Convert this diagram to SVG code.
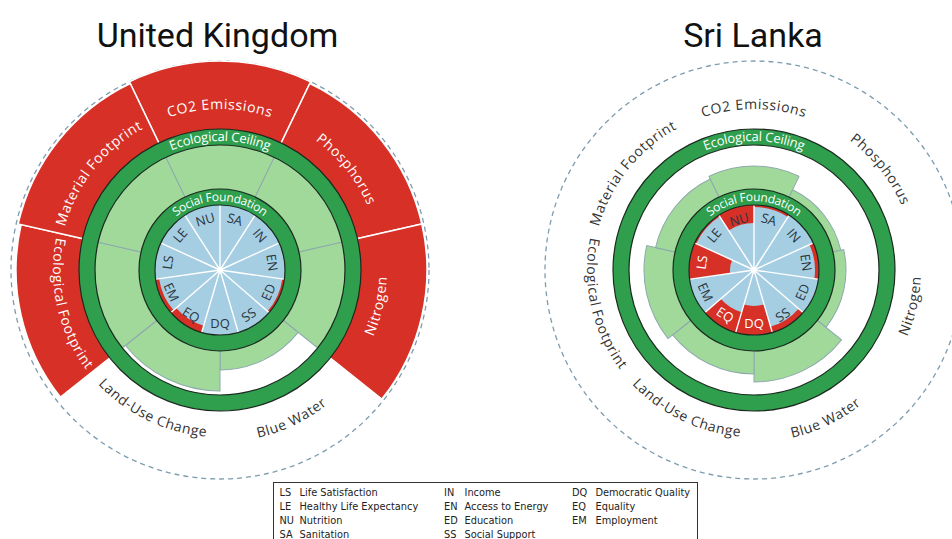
<svg xmlns="http://www.w3.org/2000/svg" width="952" height="539" viewBox="0 0 952 539">
<defs>
<style>
.dash{fill:none;stroke:#7d9cae;stroke-width:1.3;stroke-dasharray:5 4}
.ov{fill:#d73027;stroke:#fff;stroke-width:1.5}
.lg{fill:#a1d99b;stroke:#8ea9ad;stroke-width:1}
.ringg{fill:none;stroke:#2f9f4e;stroke-width:16}
.edge{fill:none;stroke:#1b2a1f;stroke-width:1.2}
.blue{fill:#a6cee3}
.sf{fill:#d73027}
.spk{fill:none;stroke:#fff;stroke-width:1.4}
.rt{font-family:"Open Sans",sans-serif;fill:#fff;text-anchor:middle}
.sl{font-family:"Open Sans",sans-serif;font-size:13px;fill:#2a3640;text-anchor:middle;dominant-baseline:central}
.slw{fill:#fff}
.out{font-family:"Open Sans",sans-serif;font-size:14px;letter-spacing:0.6px;text-anchor:middle}
.title{font-family:Roboto,"Liberation Sans",sans-serif;font-size:34px;fill:#111;text-anchor:middle}
.lgd{font-family:"DejaVu Sans",sans-serif;font-size:9.8px;fill:#222}
</style>
<path id="topArc" d="M-139.43,-80.5A161 161 0 0 1 139.43,-80.5"/>
<path id="botArc" d="M-144.63,83.5A167 167 0 0 0 144.63,83.5"/>
<path id="botArc2" d="M-148.96,86A172 172 0 0 0 148.96,86"/>
<path id="ecoArc" d="M-111.72,-64.5A129 129 0 0 1 111.72,-64.5"/>
<path id="socArc" d="M-64.84,-23.6A69 69 0 0 1 64.84,-23.6"/>
<path id="spokes" d="M0,0V-66M0,0L35.68,-55.52M0,0L60.04,-27.42M0,0L65.33,9.39M0,0L49.88,43.22M0,0L18.59,63.33M0,0L-18.59,63.33M0,0L-49.88,43.22M0,0L-65.33,9.39M0,0L-60.04,-27.42M0,0L-35.68,-55.52"/>
<path id="lgFull" d="M-34.28,-71.18L-55.1,-114.42A127 127 0 0 1 55.1,-114.42L34.28,-71.18A79 79 0 0 0 -34.28,-71.18Z"/>
<path id="ov207" d="M-59.88,-124.33L-89.81,-186.5A207 207 0 0 1 89.81,-186.5L59.88,-124.33A138 138 0 0 0 -59.88,-124.33Z"/>
</defs>

<rect width="952" height="539" fill="#fff"/>

<g id="titles">
<text class="title" x="217.5" y="47">United Kingdom</text>
<text class="title" x="753" y="47">Sri Lanka</text>
</g>

<!-- United Kingdom -->
<g id="uk" transform="translate(220,270)">
<circle class="dash" r="209"/>
<g id="uk-overshoot">
<path class="ov" d="M-59.88,-124.33L-90.68,-188.3A209 209 0 0 1 90.68,-188.3L59.88,-124.33A138 138 0 0 0 -59.88,-124.33Z"/>
<use href="#ov207" class="ov" transform="rotate(51.43)"/>
<use href="#ov207" class="ov" transform="rotate(102.86)"/>
<path class="ov" transform="rotate(257.14)" d="M-59.88,-124.33L-88.51,-183.8A204 204 0 0 1 88.51,-183.8L59.88,-124.33A138 138 0 0 0 -59.88,-124.33Z"/>
<use href="#ov207" class="ov" transform="rotate(308.57)"/>
</g>
<g id="uk-eco">
<use href="#lgFull" class="lg"/>
<use href="#lgFull" class="lg" transform="rotate(51.43)"/>
<use href="#lgFull" class="lg" transform="rotate(102.86)"/>
<path class="lg" transform="rotate(154.29)" d="M-34.28,-71.18L-43.39,-90.1A100 100 0 0 1 43.39,-90.1L34.28,-71.18A79 79 0 0 0 -34.28,-71.18Z"/>
<path class="lg" transform="rotate(205.71)" d="M-34.28,-71.18L-52.5,-109.02A121 121 0 0 1 52.5,-109.02L34.28,-71.18A79 79 0 0 0 -34.28,-71.18Z"/>
<use href="#lgFull" class="lg" transform="rotate(257.14)"/>
<use href="#lgFull" class="lg" transform="rotate(308.57)"/>
</g>
<g id="uk-social">
<circle class="blue" r="66"/>
<path class="sf" transform="rotate(245.45)" d="M-17.33,-59.01L-18.59,-63.33A66 66 0 0 1 18.59,-63.33L17.33,-59.01A61.5 61.5 0 0 0 -17.33,-59.01Z"/>
<path class="sf" transform="rotate(212.73)" d="M-16.34,-55.65L-18.59,-63.33A66 66 0 0 1 18.59,-63.33L16.34,-55.65A58 58 0 0 0 -16.34,-55.65Z"/>
<path class="sf" transform="rotate(114.55)" d="M-17.75,-60.45L-18.59,-63.33A66 66 0 0 1 18.59,-63.33L17.75,-60.45A63 63 0 0 0 -17.75,-60.45Z"/>
<use href="#spokes" class="spk"/>
<circle r="2.5" fill="#fff"/>
</g>
<g id="uk-rings">
<circle class="ringg" r="133"/><circle class="edge" r="125"/><circle class="edge" r="141"/>
<circle class="ringg" r="73"/><circle class="edge" r="65"/><circle class="edge" r="81"/>
<text class="rt" font-size="13" letter-spacing="-0.2"><textPath href="#ecoArc" startOffset="50%">Ecological Ceiling</textPath></text>
<text class="rt" font-size="12" letter-spacing="-0.3"><textPath href="#socArc" startOffset="50%">Social Foundation</textPath></text>
</g>
<g id="uk-social-labels">
<text class="sl" transform="rotate(16.36) translate(0,-53)">SA</text>
<text class="sl" transform="rotate(49.09) translate(0,-53)">IN</text>
<text class="sl" transform="rotate(81.82) translate(0,-53)">EN</text>
<text class="sl" transform="rotate(114.55) translate(0,-53) rotate(180)">ED</text>
<text class="sl" transform="rotate(147.27) translate(0,-53) rotate(180)">SS</text>
<text class="sl" transform="rotate(180) translate(0,-53) rotate(180)">DQ</text>
<text class="sl" transform="rotate(212.73) translate(0,-53) rotate(180)">EQ</text>
<text class="sl" transform="rotate(245.45) translate(0,-53) rotate(180)">EM</text>
<text class="sl" transform="rotate(278.18) translate(0,-53)">LS</text>
<text class="sl" transform="rotate(310.91) translate(0,-53)">LE</text>
<text class="sl" transform="rotate(343.64) translate(0,-53)">NU</text>
</g>
<g id="uk-eco-labels" fill="#fff">
<text class="out"><textPath href="#topArc" startOffset="50%">CO2 Emissions</textPath></text>
<text class="out" transform="rotate(51.43)"><textPath href="#topArc" startOffset="50%">Phosphorus</textPath></text>
<text class="out" transform="rotate(-77.14)"><textPath href="#botArc" startOffset="50%">Nitrogen</textPath></text>
<text class="out" transform="rotate(-25.71)" fill="#333"><textPath href="#botArc2" startOffset="50%">Blue Water</textPath></text>
<text class="out" transform="rotate(25.71)" fill="#333"><textPath href="#botArc" startOffset="50%">Land-Use Change</textPath></text>
<text class="out" transform="rotate(77.14)"><textPath href="#botArc" startOffset="50%">Ecological Footprint</textPath></text>
<text class="out" transform="rotate(-51.43)"><textPath href="#topArc" startOffset="50%">Material Footprint</textPath></text>
</g>
</g>

<!-- Sri Lanka -->
<g id="sl" transform="translate(754,270)">
<circle class="dash" r="209"/>
<g id="sl-eco">
<path class="lg" d="M-34.28,-71.18L-45.12,-93.7A104 104 0 0 1 45.12,-93.7L34.28,-71.18A79 79 0 0 0 -34.28,-71.18Z"/>
<path class="lg" transform="rotate(51.43)" d="M-34.28,-71.18L-38.62,-80.19A89 89 0 0 1 38.62,-80.19L34.28,-71.18A79 79 0 0 0 -34.28,-71.18Z"/>
<path class="lg" transform="rotate(102.86)" d="M-34.28,-71.18L-39.92,-82.89A92 92 0 0 1 39.92,-82.89L34.28,-71.18A79 79 0 0 0 -34.28,-71.18Z"/>
<path class="lg" transform="rotate(154.29)" d="M-34.28,-71.18L-48.6,-100.91A112 112 0 0 1 48.6,-100.91L34.28,-71.18A79 79 0 0 0 -34.28,-71.18Z"/>
<path class="lg" transform="rotate(205.71)" d="M-34.28,-71.18L-45.12,-93.7A104 104 0 0 1 45.12,-93.7L34.28,-71.18A79 79 0 0 0 -34.28,-71.18Z"/>
<path class="lg" transform="rotate(257.14)" d="M-34.28,-71.18L-47.73,-99.11A110 110 0 0 1 47.73,-99.11L34.28,-71.18A79 79 0 0 0 -34.28,-71.18Z"/>
<path class="lg" transform="rotate(308.57)" d="M-34.28,-71.18L-43.82,-91A101 101 0 0 1 43.82,-91L34.28,-71.18A79 79 0 0 0 -34.28,-71.18Z"/>
</g>
<g id="sl-social">
<circle class="blue" r="66"/>
<path class="sf" transform="rotate(343.64)" d="M-13.24,-45.1L-18.59,-63.33A66 66 0 0 1 18.59,-63.33L13.24,-45.1A47 47 0 0 0 -13.24,-45.1Z"/>
<path class="sf" transform="rotate(16.36)" d="M-17.75,-60.45L-18.59,-63.33A66 66 0 0 1 18.59,-63.33L17.75,-60.45A63 63 0 0 0 -17.75,-60.45Z"/>
<path class="sf" transform="rotate(81.82)" d="M-17.19,-58.53L-18.59,-63.33A66 66 0 0 1 18.59,-63.33L17.19,-58.53A61 61 0 0 0 -17.19,-58.53Z"/>
<path class="sf" transform="rotate(147.27)" d="M-16.62,-56.61L-18.59,-63.33A66 66 0 0 1 18.59,-63.33L16.62,-56.61A59 59 0 0 0 -16.62,-56.61Z"/>
<path class="sf" transform="rotate(180)" d="M-10.14,-34.54L-18.59,-63.33A66 66 0 0 1 18.59,-63.33L10.14,-34.54A36 36 0 0 0 -10.14,-34.54Z"/>
<path class="sf" transform="rotate(212.73)" d="M-12.4,-42.22L-18.59,-63.33A66 66 0 0 1 18.59,-63.33L12.4,-42.22A44 44 0 0 0 -12.4,-42.22Z"/>
<path class="sf" transform="rotate(278.18)" d="M-6.76,-23.03L-18.59,-63.33A66 66 0 0 1 18.59,-63.33L6.76,-23.03A24 24 0 0 0 -6.76,-23.03Z"/>
<path class="sf" transform="rotate(310.91)" d="M-17.89,-60.93L-18.59,-63.33A66 66 0 0 1 18.59,-63.33L17.89,-60.93A63.5 63.5 0 0 0 -17.89,-60.93Z"/>
<use href="#spokes" class="spk"/>
<circle r="2.5" fill="#fff"/>
</g>
<g id="sl-rings">
<circle class="ringg" r="133"/><circle class="edge" r="125"/><circle class="edge" r="141"/>
<circle class="ringg" r="73"/><circle class="edge" r="65"/><circle class="edge" r="81"/>
<text class="rt" font-size="13" letter-spacing="-0.2"><textPath href="#ecoArc" startOffset="50%">Ecological Ceiling</textPath></text>
<text class="rt" font-size="12" letter-spacing="-0.3"><textPath href="#socArc" startOffset="50%">Social Foundation</textPath></text>
</g>
<g id="sl-social-labels">
<text class="sl" transform="rotate(16.36) translate(0,-53)">SA</text>
<text class="sl" transform="rotate(49.09) translate(0,-53)">IN</text>
<text class="sl" transform="rotate(81.82) translate(0,-53)">EN</text>
<text class="sl" transform="rotate(114.55) translate(0,-53) rotate(180)">ED</text>
<text class="sl" transform="rotate(147.27) translate(0,-53) rotate(180)">SS</text>
<text class="sl slw" transform="rotate(180) translate(0,-53) rotate(180)">DQ</text>
<text class="sl slw" transform="rotate(212.73) translate(0,-53) rotate(180)">EQ</text>
<text class="sl" transform="rotate(245.45) translate(0,-53) rotate(180)">EM</text>
<text class="sl slw" transform="rotate(278.18) translate(0,-53)">LS</text>
<text class="sl" transform="rotate(310.91) translate(0,-53)">LE</text>
<text class="sl" transform="rotate(343.64) translate(0,-53)">NU</text>
</g>
<g id="sl-eco-labels" fill="#333">
<text class="out"><textPath href="#topArc" startOffset="50%">CO2 Emissions</textPath></text>
<text class="out" transform="rotate(51.43)"><textPath href="#topArc" startOffset="50%">Phosphorus</textPath></text>
<text class="out" transform="rotate(-77.14)"><textPath href="#botArc" startOffset="50%">Nitrogen</textPath></text>
<text class="out" transform="rotate(-25.71)"><textPath href="#botArc2" startOffset="50%">Blue Water</textPath></text>
<text class="out" transform="rotate(25.71)"><textPath href="#botArc" startOffset="50%">Land-Use Change</textPath></text>
<text class="out" transform="rotate(77.14)"><textPath href="#botArc" startOffset="50%">Ecological Footprint</textPath></text>
<text class="out" transform="rotate(-51.43)"><textPath href="#topArc" startOffset="50%">Material Footprint</textPath></text>
</g>
</g>

<g id="legend">
<rect x="273.5" y="482.5" width="424" height="70" fill="#fff" stroke="#333" stroke-width="1"/>
<g class="lgd">
<text x="279.5" y="495.5">LS</text><text x="299.5" y="495.5">Life Satisfaction</text>
<text x="279.5" y="509.5">LE</text><text x="299.5" y="509.5">Healthy Life Expectancy</text>
<text x="279.5" y="523.5">NU</text><text x="299.5" y="523.5">Nutrition</text>
<text x="279.5" y="537.5">SA</text><text x="299.5" y="537.5">Sanitation</text>
<text x="444" y="495.5">IN</text><text x="464.5" y="495.5">Income</text>
<text x="444" y="509.5">EN</text><text x="464.5" y="509.5">Access to Energy</text>
<text x="444" y="523.5">ED</text><text x="464.5" y="523.5">Education</text>
<text x="444" y="537.5">SS</text><text x="464.5" y="537.5">Social Support</text>
<text x="572" y="495.5">DQ</text><text x="595.5" y="495.5">Democratic Quality</text>
<text x="572" y="509.5">EQ</text><text x="595.5" y="509.5">Equality</text>
<text x="572" y="523.5">EM</text><text x="595.5" y="523.5">Employment</text>
</g>
</g>
</svg>
